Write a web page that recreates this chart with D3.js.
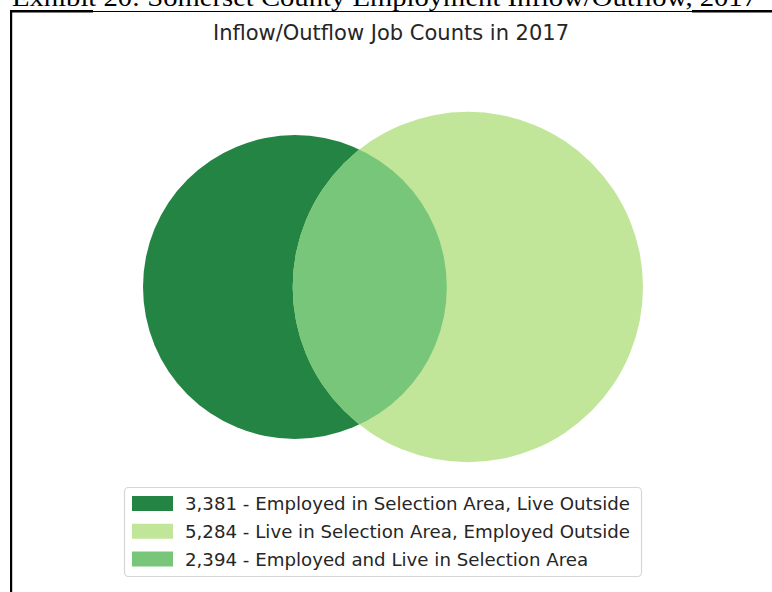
<!DOCTYPE html>
<html>
<head>
<meta charset="utf-8">
<script src="https://cdn.jsdelivr.net/npm/d3@7"></script>
<style>
  html, body { margin: 0; padding: 0; background: #fff; }
  svg { display: block; }
</style>
</head>
<body>
<svg id="chart" width="772" height="592"></svg>
<script>
// ---- data ----
const captionText = "Exhibit 20: Somerset County Employment Inflow/Outflow, 2017";
const titleText = "Inflow/Outflow Job Counts in 2017";
const regionKeys = ["leftOnly", "rightOnly", "both"];
const regionValues = [3381, 5284, 2394];
const regionLabels = [
  "Employed in Selection Area, Live Outside",
  "Live in Selection Area, Employed Outside",
  "Employed and Live in Selection Area"
];
const regionColors = ["#238443", "#c2e699", "#78c679"];

// ---- geometry (area-proportional Venn, computed from data) ----
const areaLeft = regionValues[0] + regionValues[2];
const areaRight = regionValues[1] + regionValues[2];
const areaBoth = regionValues[2];
const r1 = Math.sqrt(areaLeft / Math.PI);
const r2 = Math.sqrt(areaRight / Math.PI);

function lensArea(d) {
  if (d >= r1 + r2) return 0;
  if (d <= Math.abs(r1 - r2)) return Math.PI * Math.min(r1, r2) ** 2;
  const a1 = Math.acos((d * d + r1 * r1 - r2 * r2) / (2 * d * r1));
  const a2 = Math.acos((d * d + r2 * r2 - r1 * r1) / (2 * d * r2));
  const k = Math.sqrt((-d + r1 + r2) * (d + r1 - r2) * (d - r1 + r2) * (d + r1 + r2));
  return r1 * r1 * a1 + r2 * r2 * a2 - 0.5 * k;
}
let lo = Math.abs(r1 - r2), hi = r1 + r2;
for (let i = 0; i < 100; i++) {
  const mid = (lo + hi) / 2;
  if (lensArea(mid) > areaBoth) lo = mid; else hi = mid;
}
const dist = (lo + hi) / 2;

const svg = d3.select("#chart");

// ---- page frame + cropped caption ----
svg.append("text")
  .attr("x", 12).attr("y", 6)
  .attr("font-family", "'Liberation Serif', 'DejaVu Serif', serif")
  .attr("font-size", 25)
  .attr("fill", "#000")
  .attr("textLength", 745)
  .attr("lengthAdjust", "spacingAndGlyphs")
  .text(captionText);

svg.append("line").attr("x1", 11).attr("x2", 772).attr("y1", 11.5).attr("y2", 11.5)
  .attr("stroke", "#000").attr("stroke-width", 1.2);
svg.append("rect").attr("x", 11).attr("y", 10).attr("width", 82).attr("height", 2.5).attr("fill", "#000");
svg.append("rect").attr("x", 692).attr("y", 10).attr("width", 80).attr("height", 2.5).attr("fill", "#000");
svg.append("rect").attr("x", 10).attr("y", 10).attr("width", 2.2).attr("height", 582).attr("fill", "#000");

// ---- title ----
svg.append("text")
  .attr("x", 391).attr("y", 40)
  .attr("text-anchor", "middle")
  .attr("font-family", "'DejaVu Sans', sans-serif")
  .attr("font-size", 21)
  .attr("fill", "#262626")
  .text(titleText);

// ---- scales ----
const x = d3.scaleLinear().domain([-r1, dist + r2]).range([143, 643]);
const pxPerUnit = (x(dist + r2) - x(-r1)) / (dist + r2 + r1);
const y = d3.scaleLinear().domain([-1, 1]).range([287 + pxPerUnit, 287 - pxPerUnit]);

const circles = [
  { cx: 0, r: r1 },
  { cx: dist, r: r2 }
];

const defs = svg.append("defs");
defs.append("clipPath").attr("id", "clipLeft")
  .append("circle")
  .attr("cx", x(circles[0].cx)).attr("cy", y(0)).attr("r", circles[0].r * pxPerUnit);

const g = svg.append("g");
g.append("circle")
  .attr("cx", x(circles[0].cx)).attr("cy", y(0)).attr("r", circles[0].r * pxPerUnit)
  .attr("fill", regionColors[0]);
g.append("circle")
  .attr("cx", x(circles[1].cx)).attr("cy", y(0)).attr("r", circles[1].r * pxPerUnit)
  .attr("fill", regionColors[1]);
g.append("circle")
  .attr("cx", x(circles[1].cx)).attr("cy", y(0)).attr("r", circles[1].r * pxPerUnit)
  .attr("clip-path", "url(#clipLeft)")
  .attr("fill", regionColors[2]);

// ---- legend ----
const fmt = d3.format(",");
const legend = svg.append("g");
legend.append("rect")
  .attr("x", 124.5).attr("y", 487.5).attr("width", 517).attr("height", 89)
  .attr("rx", 4).attr("ry", 4)
  .attr("fill", "#fff").attr("fill-opacity", 0.8)
  .attr("stroke", "#d6d6d6").attr("stroke-width", 1.2);

const rowY = d3.scalePoint().domain(regionKeys).range([503.5, 559]);
const rows = legend.selectAll("g.row")
  .data(regionKeys.map((k, i) => ({ key: k, value: regionValues[i], label: regionLabels[i], color: regionColors[i] })))
  .join("g").attr("class", "row")
  .attr("transform", d => `translate(0,${rowY(d.key)})`);
rows.append("rect")
  .attr("x", 132).attr("y", -7.5).attr("width", 41).attr("height", 15)
  .attr("fill", d => d.color);
rows.append("text")
  .attr("x", 185).attr("y", 6.5)
  .attr("font-family", "'DejaVu Sans', sans-serif")
  .attr("font-size", 18.2)
  .attr("fill", "#262626")
  .text(d => `${fmt(d.value)} - ${d.label}`);
</script>
</body>
</html>
